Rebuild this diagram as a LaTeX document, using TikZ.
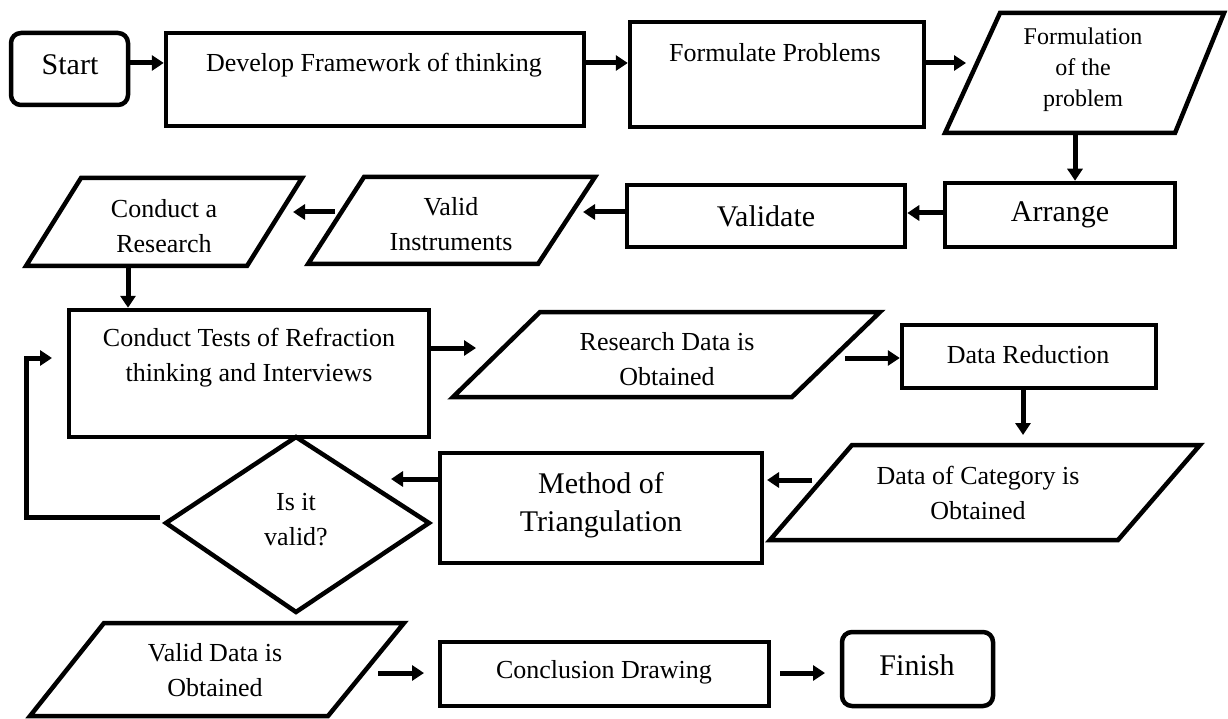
\documentclass[tikz,border=0pt]{standalone}
\usepackage{fontspec}
\setmainfont{Liberation Serif}
\usetikzlibrary{arrows.meta,calc}
\newcommand\fnorm{\fontsize{26pt}{35pt}\selectfont}
\newcommand\fbig{\fontsize{30pt}{38pt}\selectfont}
\newcommand\fsmall{\fontsize{24pt}{31pt}\selectfont}
\begin{document}
\begin{tikzpicture}[x=1pt,y=-1pt,
  box/.style={draw, line width=4.5pt, inner sep=0pt},
  rbox/.style={box, rounded corners=10pt},
  pline/.style={line width=4.5pt, line join=miter},
  txt/.style={align=center, inner sep=0pt},
  arr/.style={line width=5pt, -{Triangle[length=12pt,width=15pt]}}]
\useasboundingbox (0,0) rectangle (1228,719);
\fill[white] (0,0) rectangle (1228,719);

% --- boxes ---
\node[rbox, minimum width=117pt, minimum height=72pt] (start) at (69.5,69) {};
\node[txt, font=\fbig] (tstart) at (70,65) {Start};
\node[box, minimum width=418pt, minimum height=93pt] (dev) at (375,79.5) {};
\node[txt, font=\fnorm] (tdev) at (374,65) {Develop Framework of thinking};
\node[box, minimum width=294pt, minimum height=105pt] (form) at (777,74.5) {};
\node[txt, font=\fnorm] (tform) at (775,53) {Formulate Problems};
\draw[pline] (1000,13) -- (1224,13) -- (1175,133) -- (945,133) -- cycle;
\node[txt, font=\fsmall] (fpara) at (1083,70) {Formulation\\of the\\problem};

\node[box, minimum width=230pt, minimum height=64pt] (arrange) at (1060,215) {};
\node[txt, font=\fbig] (tarr) at (1060,215) {Arrange};
\node[box, minimum width=278pt, minimum height=62pt] (validate) at (766,216) {};
\node[txt, font=\fbig] (tval) at (766,216) {Validate};
\draw[pline] (364,177) -- (595,177) -- (538,264) -- (308,264) -- cycle;
\node[txt, font=\fnorm] (vinst) at (451,224) {Valid\\Instruments};
\draw[pline] (81,178) -- (302,178) -- (247,266) -- (26,266) -- cycle;
\node[txt, font=\fnorm] (cres) at (164,226) {Conduct a\\Research};

\node[box, minimum width=360pt, minimum height=127pt] (ctest) at (249,373.5) {};
\node[txt, font=\fnorm] (tctest) at (249,358) {Conduct Tests of Refraction\\thinking and Interviews};
\draw[pline] (540,312) -- (880,312) -- (792,397) -- (453,397) -- cycle;
\node[txt, font=\fnorm] (rdata) at (667,359) {Research Data is\\Obtained};
\node[box, minimum width=254pt, minimum height=63pt] (dred) at (1029,356.5) {};
\node[txt, font=\fnorm] (tdred) at (1028,355) {Data Reduction};

\draw[pline] (852,445) -- (1200,445) -- (1118,540) -- (770,540) -- cycle;
\node[txt, font=\fnorm] (dcat) at (978,493) {Data of Category is\\Obtained};
\node[box, minimum width=322pt, minimum height=110pt] (method) at (601,508) {};
\node[txt, font=\fbig] (tmethod) at (601,505) {Method of\\Triangulation};
\draw[pline] (296,437) -- (429,523) -- (296,612) -- (166,523) -- cycle;
\node[txt, font=\fnorm] (dia) at (296,520) {Is it\\valid?};

\draw[pline] (104,623) -- (404,623) -- (328,716) -- (30,716) -- cycle;
\node[txt, font=\fnorm] (vdata) at (215,670) {Valid Data is\\Obtained};
\node[box, minimum width=329pt, minimum height=64pt] (concl) at (604.5,674) {};
\node[txt, font=\fnorm] (tconcl) at (604,672) {Conclusion Drawing};
\node[rbox, minimum width=151pt, minimum height=74pt] (finish) at (917.5,669) {};
\node[txt, font=\fbig] (tfinish) at (917,665) {Finish};

% --- connectors ---
\coordinate (y1) at (0,63);
\draw[arr] (start.east |- y1) -- (dev.west |- y1);
\draw[arr] (dev.east |- y1) -- (form.west |- y1);
\coordinate (a3e) at (966,63);
\draw[arr] (form.east |- y1) -- (a3e);
\coordinate (fbot) at (1075,133);
\draw[arr] (fbot) -- (fbot |- arrange.north);
\coordinate (y5) at (0,213);
\draw[arr] (arrange.west |- y5) -- (validate.east |- y5);
\coordinate (a6e) at (583,212);
\draw[arr] (validate.west |- a6e) -- (a6e);
\coordinate (a7s) at (335,212);
\coordinate (a7e) at (293,212);
\draw[arr] (a7s) -- (a7e);
\coordinate (a8s) at (128,266);
\draw[arr] (a8s) -- (a8s |- ctest.north);
\coordinate (a9e) at (476,348);
\draw[arr] (ctest.east |- a9e) -- (a9e);
\coordinate (a10s) at (845,358);
\draw[arr] (a10s) -- (dred.west |- a10s);
\coordinate (a11e) at (1023,435);
\draw[arr] (dred.south -| a11e) -- (a11e);
\coordinate (a12s) at (812,480);
\coordinate (a12e) at (767,480);
\draw[arr] (a12s) -- (a12e);
\coordinate (a13e) at (391,479);
\draw[arr] (method.west |- a13e) -- (a13e);
\coordinate (lp1) at (160,517);
\coordinate (lp2) at (26,517);
\coordinate (lp3) at (26,358);
\coordinate (lp4) at (52,358);
\draw[arr] (lp1) -- (lp2) -- (lp3) -- (lp4);
\coordinate (a15s) at (378,673);
\coordinate (a15e) at (424,673);
\draw[arr] (a15s) -- (a15e);
\coordinate (a16e) at (825,673);
\draw[arr] ($(concl.east)+(9,-1)$) -- (a16e);
\end{tikzpicture}
\end{document}
